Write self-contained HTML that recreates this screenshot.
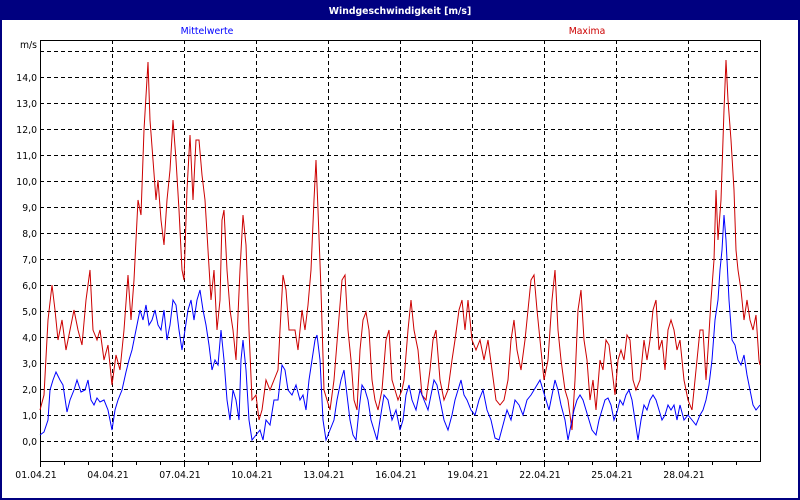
<!DOCTYPE html>
<html><head><style>
body{margin:0;width:800px;height:500px;overflow:hidden;background:#fff}
svg{display:block}
text{font-family:"DejaVu Sans","Liberation Sans",sans-serif;font-size:9.3px}
</style></head><body>
<svg width="800" height="500" xmlns="http://www.w3.org/2000/svg">
<rect x="0" y="0" width="800" height="500" fill="#000080"/>
<rect x="2" y="20" width="796" height="478" fill="#fff"/>
<text x="400" y="14" fill="#fff" text-anchor="middle" font-weight="bold">Windgeschwindigkeit [m/s]</text>
<text x="207" y="34" fill="#0000ff" text-anchor="middle">Mittelwerte</text>
<text x="587" y="34" fill="#cc0000" text-anchor="middle">Maxima</text>
<g stroke="#000" stroke-width="1" stroke-dasharray="4,3" fill="none">
<path d="M40 441.5H760M40 415.5H760M40 389.5H760M40 363.5H760M40 337.5H760M40 311.5H760M40 285.5H760M40 259.5H760M40 233.5H760M40 207.5H760M40 181.5H760M40 155.5H760M40 129.5H760M40 103.5H760M40 77.5H760M40 51.5H760"/>
<path d="M112.5 40V461M184.5 40V461M256.5 40V461M328.5 40V461M400.5 40V461M472.5 40V461M544.5 40V461M616.5 40V461M688.5 40V461"/>
</g>
<g stroke="#000" fill="none">
<rect x="40.5" y="40.5" width="720" height="421"/>
<path d="M40.5 461V467M64.5 461V465M88.5 461V465M112.5 461V467M136.5 461V465M160.5 461V465M184.5 461V467M208.5 461V465M232.5 461V465M256.5 461V467M280.5 461V465M304.5 461V465M328.5 461V467M352.5 461V465M376.5 461V465M400.5 461V467M424.5 461V465M448.5 461V465M472.5 461V467M496.5 461V465M520.5 461V465M544.5 461V467M568.5 461V465M592.5 461V465M616.5 461V467M640.5 461V465M664.5 461V465M688.5 461V467M712.5 461V465M736.5 461V465"/>
</g>
<g text-anchor="end" fill="#000">
<text x="37" y="48">m/s</text>
<text x="37" y="445">0,0</text><text x="37" y="419">1,0</text><text x="37" y="393">2,0</text><text x="37" y="367">3,0</text><text x="37" y="341">4,0</text><text x="37" y="315">5,0</text><text x="37" y="289">6,0</text><text x="37" y="263">7,0</text><text x="37" y="237">8,0</text><text x="37" y="211">9,0</text><text x="37" y="185">10,0</text><text x="37" y="159">11,0</text><text x="37" y="133">12,0</text><text x="37" y="107">13,0</text><text x="37" y="81">14,0</text>
</g>
<g text-anchor="middle" fill="#000">
<text x="36" y="478">01.04.21</text><text x="108" y="478">04.04.21</text><text x="180" y="478">07.04.21</text><text x="252" y="478">10.04.21</text><text x="324" y="478">13.04.21</text><text x="396" y="478">16.04.21</text><text x="468" y="478">19.04.21</text><text x="540" y="478">22.04.21</text><text x="612" y="478">25.04.21</text><text x="684" y="478">28.04.21</text>
</g>
<polyline fill="none" stroke="#cc0000" stroke-width="1" points="40,410 44,395 48,320 52,285 55,310 58,340 62,320 66,350 70,330 74,310 78,330 82,345 86,300 90,270 93,330 97,340 100,330 104,360 108,345 112,385 116,355 120,370 124,330 128,275 131,320 134,280 138,200 141,215 144,130 148,62 150,120 153,160 156,200 158,180 161,220 164,245 167,200 170,170 173,120 176,160 179,210 182,270 184,280 187,190 190,135 193,200 196,140 199,140 202,175 205,200 208,250 211,300 214,270 217,330 220,300 222,220 224,210 227,270 230,310 233,330 236,360 240,270 243,215 246,245 249,330 252,400 256,395 259,420 262,410 266,380 270,390 274,380 278,370 280,330 283,275 286,290 289,330 292,330 295,330 298,350 302,310 305,330 308,305 311,270 314,200 316,160 318,210 321,290 324,390 327,400 330,410 334,380 338,330 342,280 345,275 348,330 351,360 354,400 357,410 360,350 363,320 366,312 369,330 372,380 375,400 378,410 382,390 386,340 389,330 392,380 395,390 398,400 402,390 404,380 408,330 411,300 414,330 418,350 422,395 426,400 430,370 433,340 436,330 440,380 444,400 448,390 452,360 455,340 459,310 462,300 465,330 468,300 472,340 476,350 480,340 484,360 488,340 492,370 496,400 500,405 504,400 508,380 511,340 514,320 517,350 521,370 525,340 528,310 531,280 534,275 537,310 540,340 544,380 548,360 552,300 555,270 558,330 561,360 565,390 568,400 572,430 575,380 578,310 581,290 584,340 587,360 590,400 593,380 596,410 600,360 603,370 606,340 609,345 612,370 615,395 618,360 621,350 624,360 627,335 630,340 633,380 636,390 640,380 644,340 647,360 650,340 653,310 656,300 659,350 662,340 665,370 668,330 671,320 674,330 677,350 680,340 684,380 688,400 692,410 696,370 700,330 703,330 706,380 708,350 711,300 714,260 716,190 718,240 721,200 724,110 726,60 728,100 731,140 734,190 736,250 738,270 741,290 744,320 747,300 750,320 753,330 756,315 759,360 760,365"/>
<polyline fill="none" stroke="#0000ff" stroke-width="1" points="40,435 44,432 48,420 50,390 53,380 56,372 60,380 63,385 67,412 70,400 74,390 77,380 81,392 85,390 88,380 91,400 94,405 97,398 100,402 104,400 108,410 112,430 115,410 118,400 122,390 126,372 129,360 132,350 136,330 140,310 143,320 146,305 149,325 152,320 155,310 158,325 161,330 164,310 167,340 170,325 173,300 176,305 179,330 182,350 185,330 188,310 191,300 194,320 197,300 200,290 203,310 206,325 209,345 212,370 215,360 218,365 221,330 224,360 227,400 230,420 233,390 236,400 239,420 241,360 243,340 246,370 249,420 252,440 256,435 260,430 263,440 266,420 270,425 274,400 278,400 282,365 285,370 288,390 292,395 296,385 300,400 303,395 306,410 309,380 312,360 315,340 317,335 320,360 323,420 326,440 330,430 334,420 337,400 341,380 344,370 347,395 350,420 353,435 356,440 359,410 362,385 365,390 368,400 371,420 374,430 377,440 380,420 384,395 388,400 392,420 396,410 400,430 403,420 406,395 409,385 412,400 416,410 420,390 424,400 428,410 431,395 434,380 437,385 440,400 444,420 448,430 452,415 455,400 458,390 461,380 464,395 467,400 471,410 475,415 479,400 483,390 487,410 491,420 495,438 499,440 503,425 507,410 511,420 515,400 519,405 523,415 527,400 531,395 534,390 537,385 540,380 543,390 546,400 549,410 552,395 555,380 558,390 561,405 565,420 568,440 571,425 574,410 577,400 580,395 583,400 586,410 589,420 592,430 596,435 599,420 602,410 605,400 608,398 611,405 614,420 617,412 620,400 623,405 626,395 629,390 632,400 635,420 638,440 641,420 644,405 647,410 650,400 653,395 656,400 659,410 662,420 665,415 668,405 671,410 674,405 677,420 680,405 684,420 688,415 692,420 696,425 700,415 703,410 706,400 709,385 712,360 715,320 718,300 720,270 722,250 724,215 726,240 729,300 732,340 735,345 738,360 741,365 744,355 747,375 750,390 753,405 756,410 760,405"/>
</svg>
</body></html>
